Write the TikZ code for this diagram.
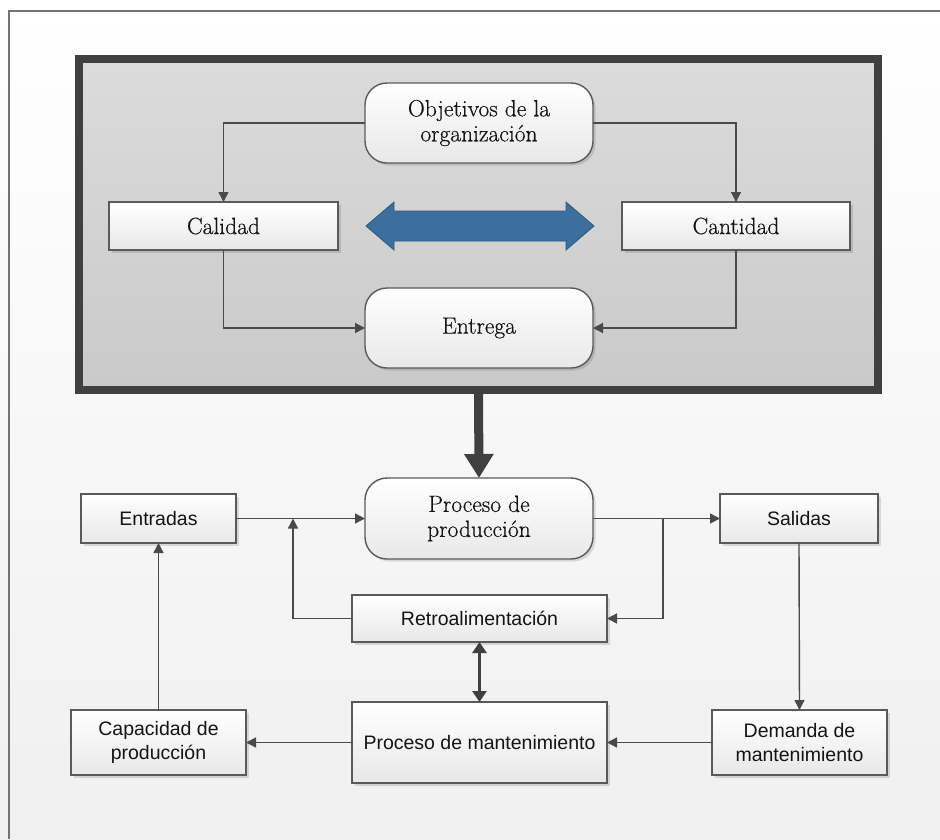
\documentclass[tikz,border=0pt]{standalone}
\usepackage{fontspec}
\newfontfamily\sansf{Liberation Sans}
\newfontfamily\serifd{Latin Modern Roman}[FakeBold=0.5]
\usetikzlibrary{arrows.meta,shadows}
\definecolor{boxline}{HTML}{5A5A5A}
\definecolor{linkc}{HTML}{4A4A4A}
\definecolor{framec}{HTML}{404040}
\definecolor{arrowblue}{HTML}{3C6E9E}
\begin{document}
\begin{tikzpicture}[x=1pt,y=-1pt,
  every node/.style={inner sep=0pt, outer sep=0pt, align=center, text=black!92},
  box/.style={draw=boxline, line width=1.4pt, top color=white, bottom color=black!9,
    drop shadow={shadow xshift=2.5pt, shadow yshift=-2.5pt, opacity=0.12, fill=black}},
  rbox/.style={box, rounded corners=22pt},
  serif/.style={font=\serifd\fontsize{23.5}{25}\selectfont},
  sans/.style={font=\sansf\fontsize{19.5}{24}\selectfont},
  link/.style={draw=linkc, line width=1.4pt, -{Triangle[length=10pt,width=10pt]}},
  dbl/.style={draw=framec, line width=3.5pt, {Triangle[length=11pt,width=14pt]}-{Triangle[length=11pt,width=14pt]}},
  bigarrow/.style={draw=framec, line width=9pt, -{Triangle[length=24pt,width=28pt]}}]

% page background and frame
\useasboundingbox (0,0) rectangle (940,839);
\shade[top color=white, bottom color=black!6] (0,0) rectangle (940,839);
\draw[draw=black!55, line width=2pt] (9,839) -- (9,11) -- (940,11);

% organisational block
\node[draw=framec, line width=8pt, top color=black!14, bottom color=black!21,
      minimum width=799pt, minimum height=331pt] (frame) at (478.5,224.5) {};

\node[rbox, serif, minimum width=228pt, minimum height=80pt] (obj) at (479,123) {Objetivos de la\\organización};
\node[box, serif, minimum width=229pt, minimum height=48pt] (cal) at (223.5,226) {Calidad};
\node[box, serif, minimum width=228pt, minimum height=48pt] (cant) at (736,226) {Cantidad};
\node[rbox, serif, minimum width=228pt, minimum height=80pt] (ent) at (479,328) {Entrega};

% two-way blue arrow between quality and quantity
\filldraw[fill=arrowblue, draw=arrowblue!80!black, line width=0.8pt]
  (366,226) -- (394,202) -- (394,211) -- (566,211) -- (566,202) -- (594,226)
  -- (566,250) -- (566,241) -- (394,241) -- (394,250) -- cycle;

\draw[link] (obj.west) -| (cal.north);
\draw[link] (obj.east) -| (cant.north);
\draw[link] (cal.south) |- (ent.west);
\draw[link] (cant.south) |- (ent.east);

% production system
\node[rbox, serif, minimum width=228pt, minimum height=81pt] (prod) at (479,518.5) {Proceso de\\producción};
\node[box, sans, minimum width=155pt, minimum height=49pt] (entr) at (158.5,518.5) {Entradas};
\node[box, sans, minimum width=158pt, minimum height=49pt] (sal) at (799,518.5) {Salidas};
\node[box, sans, minimum width=255pt, minimum height=47pt] (retro) at (479.5,618.5) {Retroalimentación};
\node[box, sans, minimum width=255pt, minimum height=81pt] (mant) at (479.5,742.5) {Proceso de mantenimiento};
\node[box, sans, minimum width=175pt, minimum height=65pt] (cap) at (158.5,742.5) {Capacidad de\\producción};
\node[box, sans, minimum width=175pt, minimum height=65pt] (dem) at (799.5,742.5) {Demanda de\\mantenimiento};

\draw[bigarrow] (frame.south) -- (prod.north);

\coordinate (fbk) at (293,518.5);
\coordinate (split) at (663,518.5);
\draw[link] (entr.east) -- (prod.west);
\draw[link] (retro.west) -| (fbk);
\draw[link] (prod.east) -- (sal.west);
\draw[link] (split) |- (retro.east);
\draw[link] (sal.south) -- (dem.north);
\draw[link] (dem.west) -- (mant.east);
\draw[link] (mant.west) -- (cap.east);
\draw[link] (cap.north) -- (entr.south);
\draw[dbl] (retro.south) -- (mant.north);
\end{tikzpicture}
\end{document}
